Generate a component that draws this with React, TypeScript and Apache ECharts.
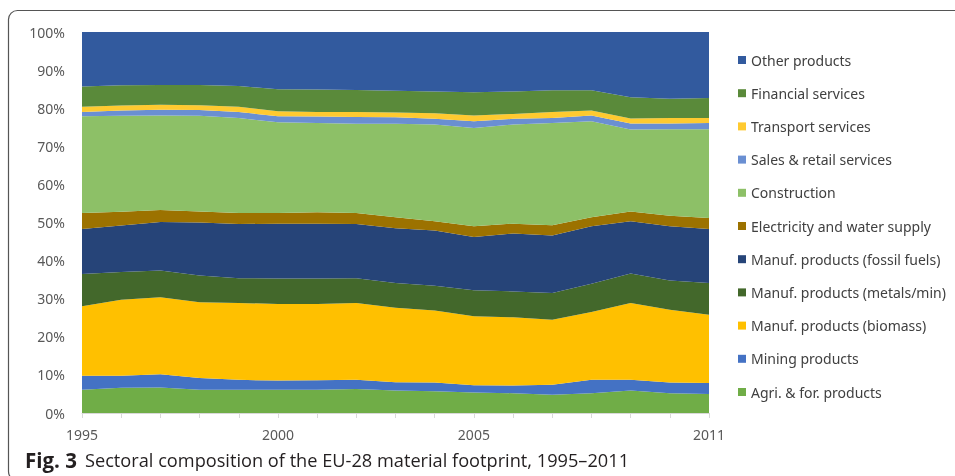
import React, { useEffect, useRef } from "react";
import * as echarts from "echarts";

const years = ["1995","1996","1997","1998","1999","2000","2001","2002","2003","2004","2005","2006","2007","2008","2009","2010","2011"];

const agri = [6.1,6.6,6.7,6.1,6.1,6.1,6.1,6.3,5.9,5.7,5.4,5.2,4.8,5.2,5.9,5.2,5.0];
const mining = [3.7,3.2,3.5,3.1,2.6,2.4,2.5,2.4,2.2,2.3,1.9,2.0,2.6,3.5,2.8,2.8,2.9];
const biomass = [18.2,19.9,20.2,19.9,20.2,20.1,20.0,20.2,19.5,18.9,18.1,17.9,17.1,17.8,20.2,19.1,17.9];
const metals = [8.5,7.3,7.0,7.0,6.5,6.7,6.7,6.5,6.5,6.5,6.8,6.8,7.0,7.4,7.7,7.7,8.3];
const fossil = [11.8,12.2,12.7,13.9,14.2,14.4,14.4,14.2,14.4,14.5,14.0,15.2,15.1,15.1,13.7,14.2,14.2];
const electricity = [4.2,3.6,3.2,2.9,2.9,2.8,3.0,2.9,2.9,2.4,2.8,2.6,2.7,2.4,2.6,2.8,2.9];
const construction = [25.4,25.2,24.8,25.1,24.9,23.8,23.4,23.4,24.5,25.4,25.8,26.0,26.8,25.2,21.5,22.7,23.3];
const sales = [1.1,1.4,1.5,1.5,1.6,1.6,1.7,1.8,1.7,1.5,1.8,1.5,1.3,1.5,1.6,1.5,1.6];
const transport = [1.4,1.3,1.3,1.3,1.4,1.3,1.2,1.3,1.3,1.5,1.5,1.3,1.6,1.3,1.3,1.4,1.3];
const financial = [5.3,5.3,5.2,5.3,5.4,5.8,5.9,5.8,5.7,5.7,6.1,5.9,5.7,5.3,5.6,5.1,5.3];
const other = [14.3,14.0,13.9,13.9,14.2,15.0,15.1,15.2,15.4,15.6,15.8,15.6,15.3,15.3,17.1,17.5,17.3];

const seriesNames = [
  "Agri. & for. products",
  "Mining products",
  "Manuf. products (biomass)",
  "Manuf. products (metals/min)",
  "Manuf. products (fossil fuels)",
  "Electricity and water supply",
  "Construction",
  "Sales & retail services",
  "Transport services",
  "Financial services",
  "Other products",
];
const seriesData = [agri, mining, biomass, metals, fossil, electricity, construction, sales, transport, financial, other];
const seriesColors = ["#70AD47","#4472C4","#FFC000","#43682B","#264478","#9C7200","#8DC067","#6A8FD2","#FFCA30","#5A8A3A","#325A9E"];

const yTicks = [0,10,20,30,40,50,60,70,80,90,100];
const xLabelIdx = [0,5,10,16];

export default function App() {
  const ref = useRef<HTMLDivElement>(null);
  useEffect(() => {
    if (!ref.current) return;
    const chart = echarts.init(ref.current, undefined, { renderer: "svg" });
    const font = "'Noto Sans', sans-serif";
    chart.setOption({
      animation: false,
      grid: { left: 82, right: 246, top: 32, bottom: 63 },
      xAxis: {
        type: "category",
        data: years,
        boundaryGap: false,
        axisLine: { show: true, lineStyle: { color: "#d9d9d9", width: 1 } },
        axisTick: { show: true, interval: 0, length: 5, lineStyle: { color: "#d9d9d9" } },
        axisLabel: {
          interval: (i: number) => xLabelIdx.includes(i),
          color: "#595959",
          fontSize: 14,
          fontFamily: font,
          margin: 14,
          lineHeight: 14,
        },
        splitLine: { show: false },
      },
      yAxis: {
        type: "value",
        min: yTicks[0],
        max: yTicks[yTicks.length - 1],
        interval: 10,
        axisLine: { show: false },
        axisTick: { show: false },
        splitLine: { show: false },
        axisLabel: {
          formatter: "{value}%",
          color: "#595959",
          fontSize: 14,
          fontFamily: font,
          margin: 17,
        },
      },
      legend: {
        orient: "vertical",
        left: 738,
        top: 53,
        padding: 0,
        itemWidth: 8,
        itemHeight: 8,
        itemGap: 19.2,
        icon: "rect",
        data: [...seriesNames].reverse(),
        textStyle: { color: "#404040", fontSize: 14, fontFamily: font, lineHeight: 14 },
        selectedMode: false,
      },
      series: seriesNames.map((name, i) => ({
        name,
        type: "line",
        stack: "total",
        data: seriesData[i],
        symbol: "none",
        color: seriesColors[i],
        lineStyle: { width: 0 },
        areaStyle: { color: seriesColors[i], opacity: 1 },
      })),
      graphic: [
        {
          type: "rect",
          shape: { x: 8.5, y: 10.5, width: 1000, height: 470, r: 9 },
          style: { fill: "none", stroke: "#555555", lineWidth: 1.2 },
          silent: true,
        },
        {
          type: "text",
          left: 25,
          top: 449,
          style: {
            text: "{b|Fig. 3}{n|Sectoral composition of the EU-28 material footprint, 1995–2011}",
            rich: {
              b: { fontFamily: "'Open Sans', sans-serif", fontWeight: "bold", fontSize: 20.5, lineHeight: 20, fill: "#231f20", padding: [0, 8, 0, 0] },
              n: { fontFamily: "'Open Sans', sans-serif", fontSize: 18.2, lineHeight: 20, fill: "#231f20" },
            },
          },
        },
      ],
    });
    return () => chart.dispose();
  }, []);
  return <div ref={ref} style={{ position: "fixed", left: 0, top: 0, width: 955, height: 476 }} />;
}
